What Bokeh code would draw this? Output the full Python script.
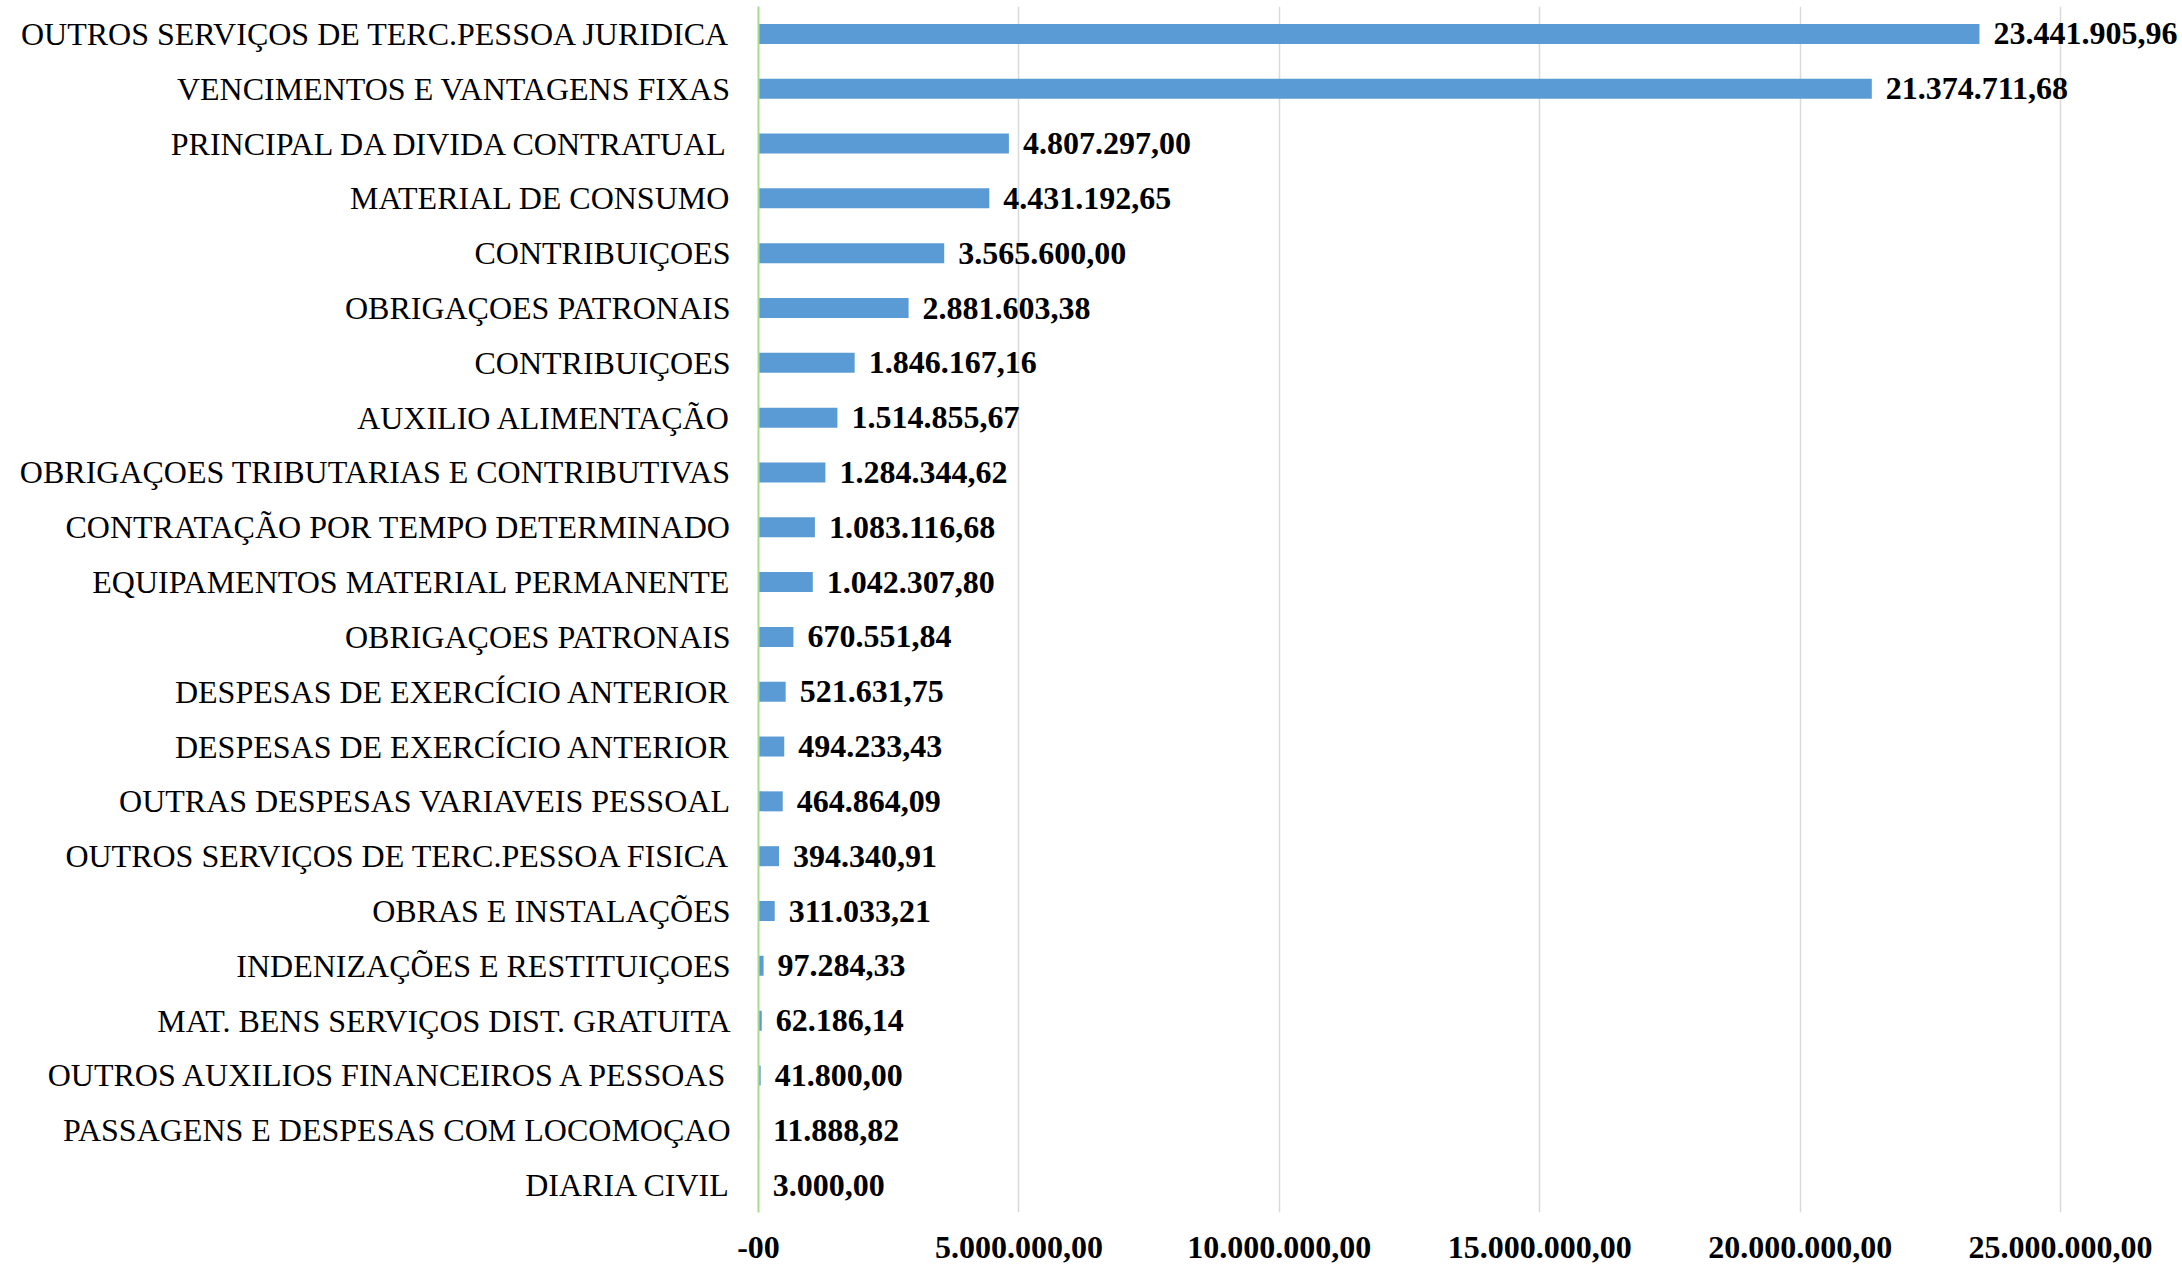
from bokeh.plotting import figure
from bokeh.models import Range1d, FixedTicker, ColumnDataSource, LabelSet
from bokeh.embed import file_html
from bokeh.resources import INLINE

categories = [
    "OUTROS SERVIÇOS DE TERC.PESSOA JURIDICA",
    "VENCIMENTOS E VANTAGENS FIXAS",
    "PRINCIPAL DA DIVIDA CONTRATUAL",
    "MATERIAL DE CONSUMO",
    "CONTRIBUIÇOES",
    "OBRIGAÇOES PATRONAIS",
    "CONTRIBUIÇOES",
    "AUXILIO ALIMENTAÇÃO",
    "OBRIGAÇOES TRIBUTARIAS E CONTRIBUTIVAS",
    "CONTRATAÇÃO POR TEMPO DETERMINADO",
    "EQUIPAMENTOS MATERIAL PERMANENTE",
    "OBRIGAÇOES PATRONAIS",
    "DESPESAS DE EXERCÍCIO ANTERIOR",
    "DESPESAS DE EXERCÍCIO ANTERIOR",
    "OUTRAS DESPESAS VARIAVEIS PESSOAL",
    "OUTROS SERVIÇOS DE TERC.PESSOA FISICA",
    "OBRAS E INSTALAÇÕES",
    "INDENIZAÇÕES E RESTITUIÇOES",
    "MAT. BENS SERVIÇOS DIST. GRATUITA",
    "OUTROS AUXILIOS FINANCEIROS A PESSOAS",
    "PASSAGENS E DESPESAS COM LOCOMOÇAO",
    "DIARIA CIVIL",
]
values = [
    23441905.96, 21374711.68, 4807297.00, 4431192.65, 3565600.00,
    2881603.38, 1846167.16, 1514855.67, 1284344.62, 1083116.68,
    1042307.80, 670551.84, 521631.75, 494233.43, 464864.09,
    394340.91, 311033.21, 97284.33, 62186.14, 41800.00,
    11888.82, 3000.00,
]
x_ticks = [0, 5000000, 10000000, 15000000, 20000000, 25000000]
x_tick_labels = ["-00", "5.000.000,00", "10.000.000,00", "15.000.000,00",
                 "20.000.000,00", "25.000.000,00"]


def br(v):
    s = f"{v:,.2f}"
    return s.replace(",", "X").replace(".", ",").replace("X", ".")


n = len(categories)
ypos = list(range(n))
labels = [br(v) for v in values]

src = ColumnDataSource(dict(y=ypos, v=values, lab=labels))

FONT = "Liberation Serif"
FS = "32px"

p = figure(width=2182, height=1268, output_backend="svg", toolbar_location=None,
           x_range=Range1d(0, 27.34e6), y_range=Range1d(n - 0.5, -0.5),
           min_border_left=758, min_border_right=0, min_border_top=6,
           min_border_bottom=56)
p.outline_line_color = None
p.background_fill_color = "white"

p.hbar(y="y", right="v", left=0, height=0.365, source=src,
       fill_color="#5B9BD5", line_color=None)

ls = LabelSet(x="v", y="y", text="lab", source=src, x_offset=14,
              text_baseline="middle", text_align="left",
              text_font=FONT, text_font_size=FS, text_font_style="bold",
              text_color="black")
p.add_layout(ls)

# y axis
p.yaxis.ticker = FixedTicker(ticks=ypos)
p.yaxis.major_label_overrides = {i: c for i, c in enumerate(categories)}
p.yaxis.major_label_text_font = FONT
p.yaxis.major_label_text_font_size = FS
p.yaxis.major_label_text_color = "black"
p.yaxis.major_label_standoff = 22
p.yaxis.major_tick_line_color = None
p.yaxis.minor_tick_line_color = None
p.yaxis.axis_line_color = "#A9DC8A"
p.yaxis.axis_line_width = 2

# x axis
p.xaxis.ticker = FixedTicker(ticks=x_ticks)
p.xaxis.major_label_overrides = {t: l for t, l in zip(x_ticks, x_tick_labels)}
p.xaxis.major_label_text_font = FONT
p.xaxis.major_label_text_font_size = FS
p.xaxis.major_label_text_font_style = "bold"
p.xaxis.major_label_text_color = "black"
p.xaxis.major_label_standoff = 18
p.xaxis.axis_line_color = None
p.xaxis.major_tick_line_color = None
p.xaxis.minor_tick_line_color = None

p.xgrid.ticker = FixedTicker(ticks=x_ticks)
p.xgrid.grid_line_color = "#D9D9D9"
p.xgrid.grid_line_width = 1.5
p.ygrid.grid_line_color = None

open("out.html", "w").write(file_html(p, INLINE))
